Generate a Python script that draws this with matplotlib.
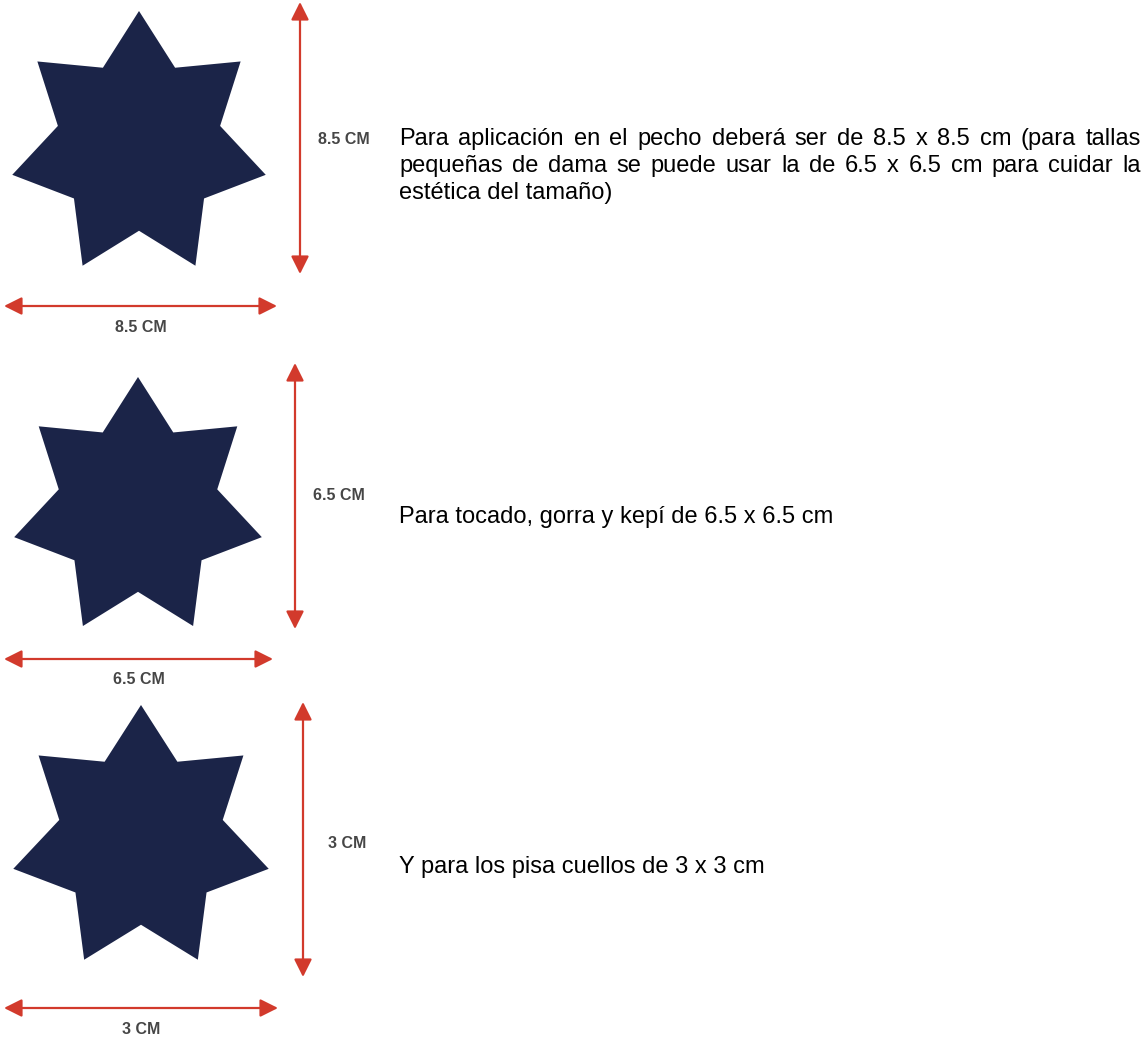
import numpy as np
import matplotlib
matplotlib.use("Agg")
import matplotlib.pyplot as plt
from matplotlib.patches import Polygon

# sizes shown in the three panels
size_labels = ["8.5 CM", "6.5 CM", "3 CM"]
captions = [
    ["Para aplicación en el pecho deberá ser de 8.5 x 8.5 cm (para tallas",
     "pequeñas de dama se puede usar la de 6.5 x 6.5 cm para cuidar la",
     "estética del tamaño)"],
    ["Para tocado, gorra y kepí de 6.5 x 6.5 cm"],
    ["Y para los pisa cuellos de 3 x 3 cm"],
]

# layout in pixels (image coords, y down)
star_centers = [(139, 145), (138, 508), (141, 839)]
star_radii = [(130, 134), (127, 131), (131, 134)]
vert_arrows = [(300, 2, 274), (295, 363, 629), (303, 702, 977)]
horiz_arrows = [(306, 4, 277), (659, 4, 273), (1008, 4, 278)]
vert_label_pos = [(344, 140), (339, 496), (347, 843)]
caption_base = [145, 523, 873]
line_h = 27
text_x0, text_x1 = 399, 1141

NAVY = "#1b2448"
RED = "#d23a2c"
GREY = "#464646"

W, H = 1146, 1042
fig = plt.figure(figsize=(W / 100, H / 100), dpi=100)
ax = fig.add_axes([0, 0, 1, 1])
ax.set_xlim(0, W)
ax.set_ylim(H, 0)
ax.axis("off")


def heptagram(cx, cy, rx, ry, ratio=0.64):
    pts = []
    for k in range(14):
        ang = np.pi / 2 + k * np.pi / 7
        f = 1.0 if k % 2 == 0 else ratio
        pts.append((cx + f * rx * np.cos(ang), cy - f * ry * np.sin(ang)))
    return pts


arrow_kw = dict(arrowstyle="<|-|>,head_length=0.6,head_width=0.3", color=RED,
                lw=1.6, mutation_scale=18, shrinkA=0, shrinkB=0)
label_kw = dict(ha="center", va="center", fontsize=11.5, fontweight="bold",
                color=GREY, family="Liberation Sans")

for i in range(3):
    cx, cy = star_centers[i]
    rx, ry = star_radii[i]
    ax.add_patch(Polygon(heptagram(cx, cy, rx, ry), closed=True,
                         facecolor=NAVY, edgecolor="none"))

    vx, vy0, vy1 = vert_arrows[i]
    ax.annotate("", xy=(vx, vy0), xytext=(vx, vy1), arrowprops=arrow_kw)
    hy, hx0, hx1 = horiz_arrows[i]
    ax.annotate("", xy=(hx0, hy), xytext=(hx1, hy), arrowprops=arrow_kw)

    ax.text((hx0 + hx1) / 2, hy + 21, size_labels[i], **label_kw)
    lx, ly = vert_label_pos[i]
    ax.text(lx, ly, size_labels[i], **label_kw)

renderer = fig.canvas.get_renderer()
inv = ax.transData.inverted()
font = dict(fontsize=17, color="black", family="Liberation Sans", va="baseline")

for i, lines in enumerate(captions):
    for j, line in enumerate(lines):
        y = caption_base[i] + j * line_h
        justify = len(lines) > 1 and j < len(lines) - 1
        if not justify:
            ax.text(text_x0, y, line, ha="left", **font)
            continue
        # justified line: place words one by one
        words = line.split(" ")
        objs = [ax.text(0, y, w, ha="left", **font) for w in words]
        widths = []
        for t in objs:
            bb = t.get_window_extent(renderer)
            p0 = inv.transform((bb.x0, bb.y0))
            p1 = inv.transform((bb.x1, bb.y0))
            widths.append(p1[0] - p0[0])
        gap = (text_x1 - text_x0 - sum(widths)) / (len(words) - 1)
        x = text_x0
        for t, w in zip(objs, widths):
            t.set_x(x)
            x += w + gap

fig.savefig("out.png", dpi=100, facecolor="white")
